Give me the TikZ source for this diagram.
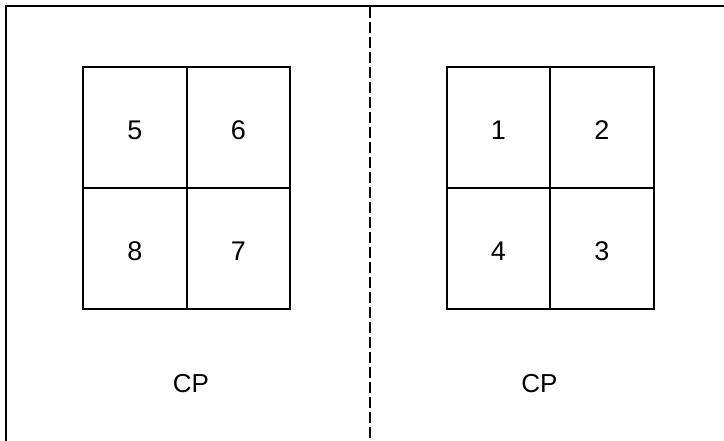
\documentclass[tikz,border=0pt]{standalone}
\usepackage{fontspec}
\setmainfont{Liberation Sans}
\begin{document}
\begin{tikzpicture}[x=1pt,y=-1pt,
  cell/.style={draw=black,line width=2pt,minimum width=103.5pt,minimum height=121pt,inner sep=0pt,text height=24pt,text depth=0pt,font=\fontsize{27}{27}\selectfont},
  lbl/.style={inner sep=0pt,font=\fontsize{26}{26}\selectfont},
  frame/.style={line width=2pt,draw=black},
  divider/.style={line width=2pt,draw=black,dash pattern=on 11pt off 4pt}]
\useasboundingbox (0,0) rectangle (724,441);
% frame
\coordinate (tl) at (6,6);
\coordinate (tr) at (724,6);
\coordinate (bl) at (6,441);
\coordinate (dt) at (370,7);
\coordinate (db) at (370,441);
\draw[frame] (bl) -- (tl) -- (tr);
\draw[divider] (dt) -- (db);
% left grid
\node[cell] (c5) at (135,127.2) {5};
\node[cell] (c6) at (238.5,127.2) {6};
\node[cell] (c8) at (135,248.2) {8};
\node[cell] (c7) at (238.5,248.2) {7};
% right grid
\node[cell] (c1) at (498.5,127.2) {1};
\node[cell] (c2) at (602,127.2) {2};
\node[cell] (c4) at (498.5,248.2) {4};
\node[cell] (c3) at (602,248.2) {3};
% labels
\node[lbl] (cpl) at (191,384) {CP};
\node[lbl] (cpr) at (539.5,384) {CP};
\end{tikzpicture}
\end{document}
